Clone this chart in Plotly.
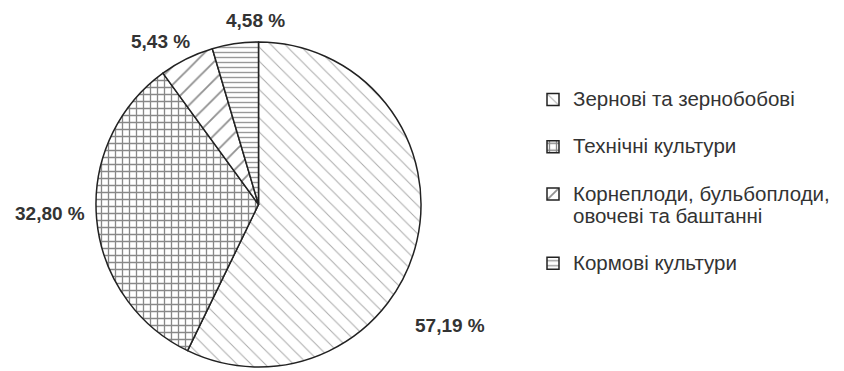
import plotly.graph_objects as go

# Structure of sown areas by crop group, %
categories = [
    "Зернові та зернобобові",
    "Технічні культури",
    "Корнеплоди, бульбоплоди,<br>овочеві та баштанні",
    "Кормові культури",
]
shares = [57.19, 32.80, 5.43, 4.58]

# hatch style per crop group
hatch_shapes = ["\\", "+", "/", "-"]
hatch_sizes = [10, 7, 13, 5]
hatch_solidity = [0.1, 0.34, 0.14, 0.28]
hatch_colors = ["#555555", "#111111", "#222222", "#333333"]

# where each percentage label sits (px in an 844x371 canvas)
label_px = [(450, 325), (50, 213), (160, 42), (255, 20)]

W, H = 844, 371
FONT = "Liberation Sans, Arial, sans-serif"


def fmt(v):
    return f"{v:.2f}".replace(".", ",") + " %"


def legend_text(label):
    # larger glyphs on the legend's own line pitch, plus a blank trailing
    # line that sets the gap between entries
    lines = label.split("<br>")
    body = "<br>".join(f'<span style="font-size:20.5px">{ln}</span>' for ln in lines)
    return body + "<br> "


fig = go.Figure(
    go.Pie(
        labels=[legend_text(c) for c in categories],
        values=shares,
        sort=False,
        direction="clockwise",
        rotation=0,
        textinfo="none",
        hoverinfo="percent",
        marker=dict(
            colors=["white"] * len(shares),
            line=dict(color="#222222", width=1.5),
            pattern=dict(
                shape=hatch_shapes,
                size=hatch_sizes,
                solidity=hatch_solidity,
                fgcolor=hatch_colors,
                bgcolor="white",
                fillmode="overlay",
            ),
        ),
        domain=dict(x=[95 / W, 422 / W], y=[4 / H, 329 / H]),
    )
)

for v, (px, py) in zip(shares, label_px):
    fig.add_annotation(
        x=px / W,
        y=1 - py / H,
        xref="paper",
        yref="paper",
        text=f"<b>{fmt(v)}</b>",
        showarrow=False,
        font=dict(family=FONT, size=19, color="#333333"),
        xanchor="center",
        yanchor="middle",
    )

fig.update_layout(
    width=W,
    height=H,
    margin=dict(l=0, r=0, t=0, b=0),
    paper_bgcolor="white",
    plot_bgcolor="white",
    showlegend=True,
    legend=dict(
        x=533 / W,
        y=1 - 82 / H,
        xanchor="left",
        yanchor="top",
        valign="top",
        bgcolor="rgba(0,0,0,0)",
        font=dict(family=FONT, size=17, color="#333333"),
        traceorder="normal",
    ),
)

fig.write_html("out.html")
